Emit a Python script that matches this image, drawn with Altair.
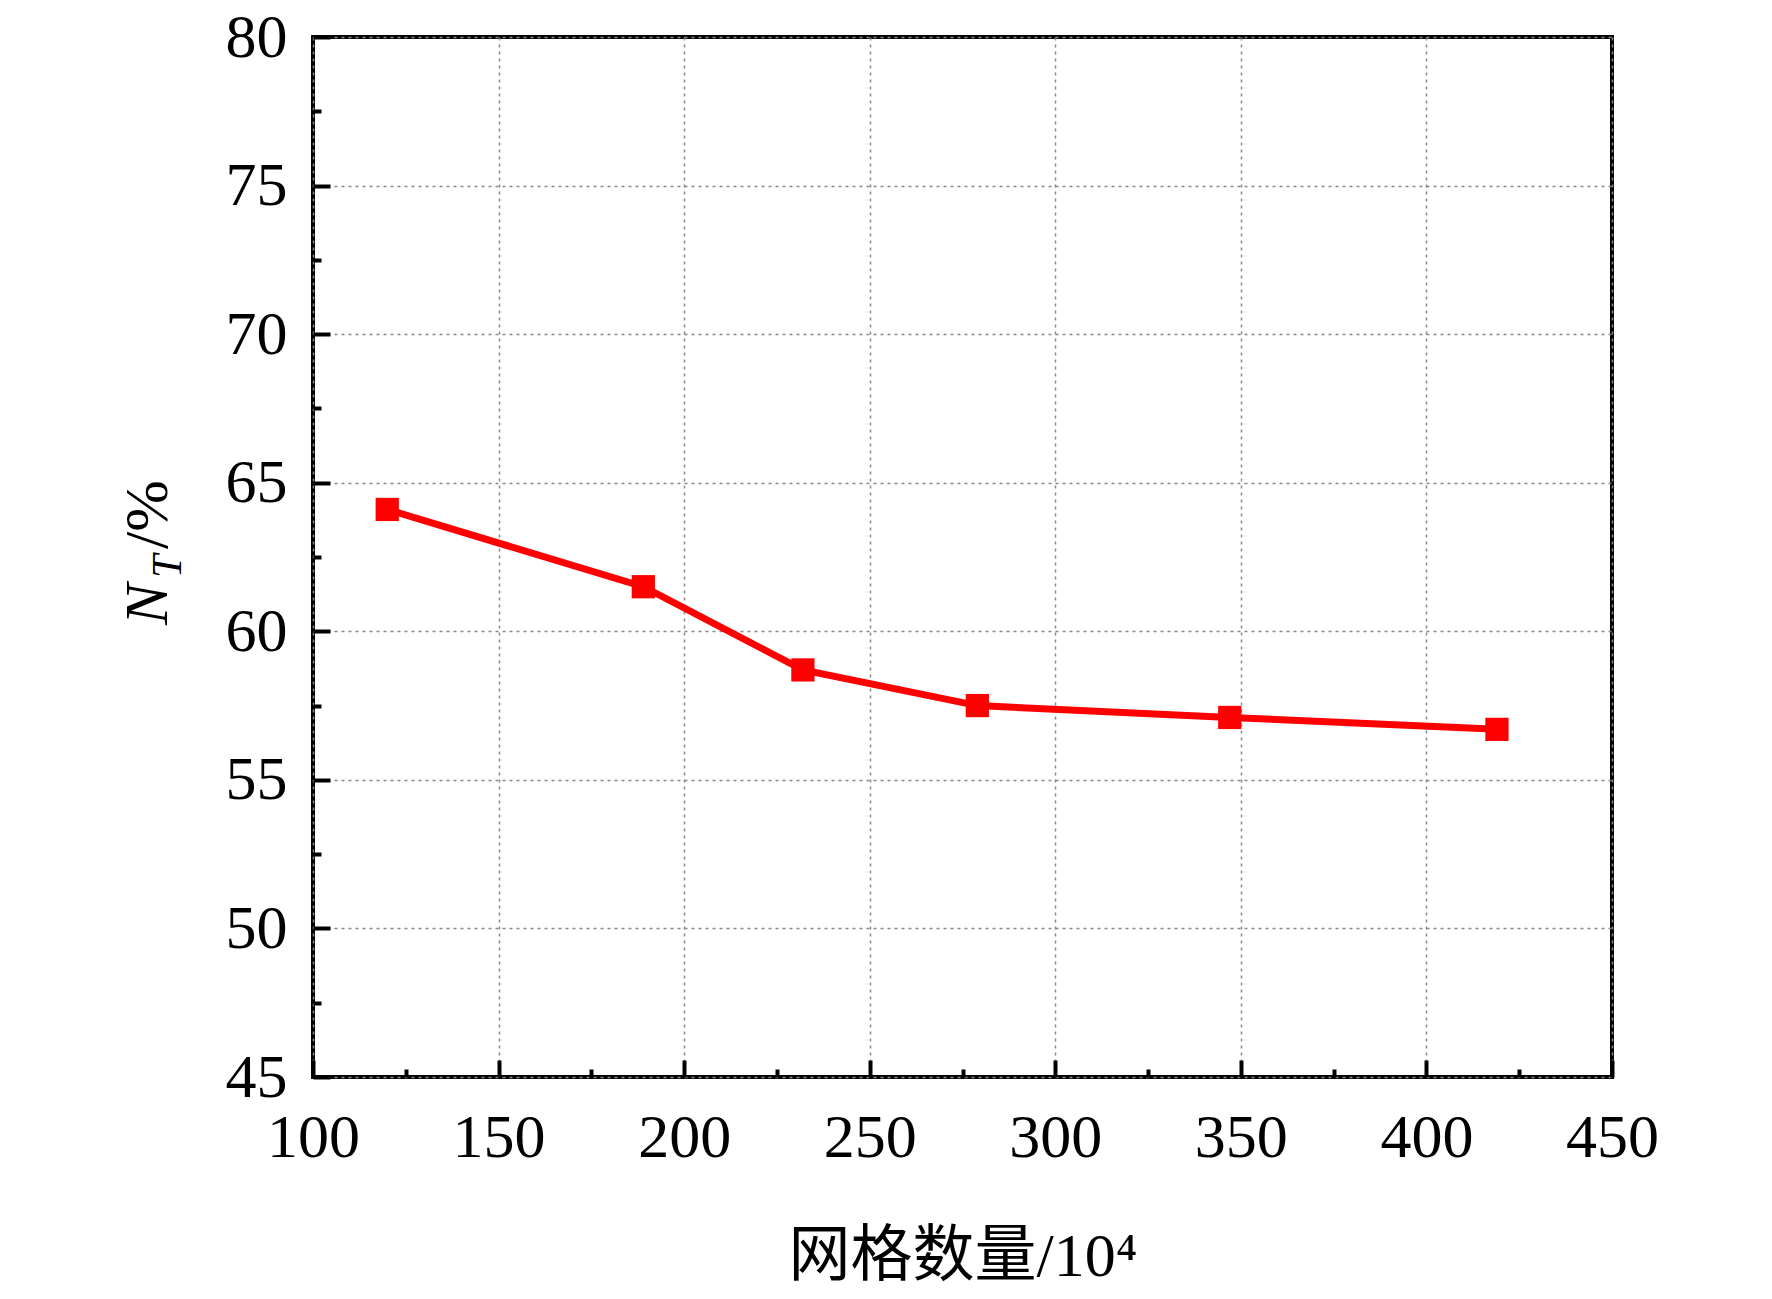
import altair as alt
import pandas as pd

# ---- data ----
grid_cells = [120, 189, 232, 279, 347, 419]          # 网格数量 /10^4
nt_percent = [64.1, 61.5, 58.7, 57.5, 57.1, 56.7]    # N_T / %

x_major = [100, 150, 200, 250, 300, 350, 400, 450]
x_minor = [125, 175, 225, 275, 325, 375, 425]
y_major = [45, 50, 55, 60, 65, 70, 75, 80]
y_minor = [47.5, 52.5, 57.5, 62.5, 67.5, 72.5, 77.5]

x_title = "网格数量/10⁴"
y_title_n = ["N"]
y_title_sub = ["T"]
y_title_rest = ["/%"]

# ---- styling ----
W, H = 1299, 1040
FONT = "Liberation Serif"
TITLE_FONT = "Liberation Serif, Noto Sans CJK SC"
RED = "#ff0000"
FS = 62

df = pd.DataFrame({"cells": grid_cells, "nt": nt_percent})
xs = alt.Scale(domain=[100, 450], nice=False, zero=False)
ys = alt.Scale(domain=[45, 80], nice=False, zero=False)

main_x_axis = alt.Axis(
    orient="bottom", values=x_major, title=x_title, grid=True, ticks=False, tickSize=0,
    domain=False, labelFont=FONT, labelFontSize=FS, labelColor="black", labelPadding=30,
    labelFlush=False, labelOverlap=False, titleFont=TITLE_FONT, titleFontSize=FS,
    titleFontWeight="normal", titleColor="black", titlePadding=58,
    gridColor="#888888", gridDash=[3, 4], gridWidth=1.5,
)
main_y_axis = alt.Axis(
    orient="left", values=y_major, title=None, grid=True, ticks=False, tickSize=0,
    domain=False, labelFont=FONT, labelFontSize=FS, labelColor="black", labelPadding=26,
    labelFlush=False, labelOverlap=False, labelBaseline="middle",
    gridColor="#888888", gridDash=[3, 4], gridWidth=1.5,
)

line = alt.Chart(df).mark_line(color=RED, strokeWidth=7).encode(
    x=alt.X("cells:Q", scale=xs, axis=main_x_axis),
    y=alt.Y("nt:Q", scale=ys, axis=main_y_axis),
)

points = alt.Chart(df).mark_square(color=RED, size=540, opacity=1).encode(
    x=alt.X("cells:Q", scale=xs, axis=None),
    y=alt.Y("nt:Q", scale=ys, axis=None),
)


def tick_layer(vx, vy, length):
    common = dict(labels=False, domain=False, grid=False, title=None,
                  tickSize=length, tickWidth=4, tickColor="black", offset=-length)
    return alt.Chart(df).mark_point(opacity=0).encode(
        x=alt.X("cells:Q", scale=xs, axis=alt.Axis(orient="bottom", values=vx, **common)),
        y=alt.Y("nt:Q", scale=ys, axis=alt.Axis(orient="left", values=vy, **common)),
    )


major_ticks = tick_layer(x_major, y_major, 17)
minor_ticks = tick_layer(x_minor, y_minor, 8)

txt_common = dict(font=FONT, angle=270, align="left", baseline="alphabetic", color="black")
t_n = alt.Chart(pd.DataFrame({"t": y_title_n})).mark_text(
    fontSize=FS, fontStyle="italic", **txt_common
).encode(text="t:N", x=alt.value(-146), y=alt.value(588))
t_sub = alt.Chart(pd.DataFrame({"t": y_title_sub})).mark_text(
    fontSize=42, fontStyle="italic", **txt_common
).encode(text="t:N", x=alt.value(-132), y=alt.value(541))
t_rest = alt.Chart(pd.DataFrame({"t": y_title_rest})).mark_text(
    fontSize=FS, **txt_common
).encode(text="t:N", x=alt.value(-146), y=alt.value(512))

chart = (
    alt.layer(line, points, major_ticks, minor_ticks, t_n, t_sub, t_rest)
    .resolve_axis(x="independent", y="independent")
    .properties(
        width=W, height=H,
        padding={"left": 305, "top": 29, "right": 100, "bottom": 212},
        autosize=alt.AutoSizeParams(type="none"),
        background="white",
    )
    .configure_view(stroke="black", strokeWidth=4)
)

chart.save("out.html", embed_options={"renderer": "svg", "actions": False})
